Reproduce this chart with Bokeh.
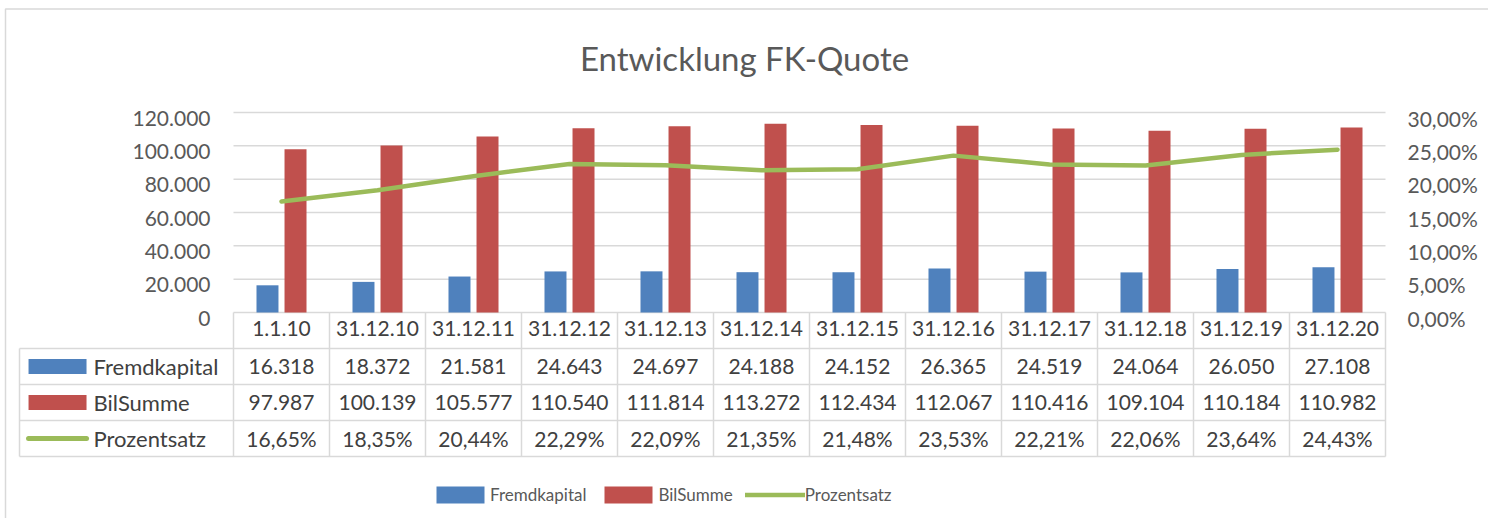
from bokeh.plotting import figure
from bokeh.models import (Range1d, LinearAxis, FixedTicker, CustomJSTickFormatter,
                          Legend, LegendItem, Label)
from bokeh.core.properties import value
from bokeh.embed import file_html
from bokeh.resources import INLINE

# ---------------- data ----------------
categories = ["1.1.10", "31.12.10", "31.12.11", "31.12.12", "31.12.13", "31.12.14",
              "31.12.15", "31.12.16", "31.12.17", "31.12.18", "31.12.19", "31.12.20"]
fremdkapital = [16318, 18372, 21581, 24643, 24697, 24188, 24152, 26365, 24519, 24064, 26050, 27108]
bilsumme = [97987, 100139, 105577, 110540, 111814, 113272, 112434, 112067, 110416, 109104, 110184, 110982]
prozentsatz = [16.65, 18.35, 20.44, 22.29, 22.09, 21.35, 21.48, 23.53, 22.21, 22.06, 23.64, 24.43]
series_names = ["Fremdkapital", "BilSumme", "Prozentsatz"]
left_ticks = [0, 20000, 40000, 60000, 80000, 100000, 120000]
right_ticks = [0, 5, 10, 15, 20, 25, 30]
title_text = "Entwicklung FK-Quote"

# ---------------- style / layout ----------------
BLUE, RED, GREEN = "#4F81BD", "#C0504D", "#9BBB59"
GRID = "#D9D9D9"
TXT = "#595959"
TBL_TXT = "#404040"
FONT = "Lato"

W, H = 1488, 518
PX_X = 96.0                          # pixels per category
PX0_X = 233.0                        # pixel of category axis start
UPP = 600.0                          # left-axis units per pixel
PX_120K = 112.0                      # pixel row of the 120.000 gridline
ROW_H = 36 * UPP                     # data-table row height
PCT_FACTOR = 4000.0                  # 30% <-> 120000
n = len(categories)
TABLE_LEFT = -2.229                  # left edge of the row-label column (category units)
X_START, X_END = -PX0_X / PX_X, (W - PX0_X) / PX_X
Y_TOP = 120000 + PX_120K * UPP
Y_BOTTOM = 120000 - (H - PX_120K) * UPP
BAR_OFF, BAR_W = 0.146, 0.229
LABEL_DY = 5.5 * UPP                 # Excel draws value-axis labels slightly below their gridline

p = figure(width=W, height=H, output_backend="svg", toolbar_location=None, title=None,
           x_axis_type=None, y_axis_type=None,
           x_range=Range1d(X_START, X_END), y_range=Range1d(Y_BOTTOM, Y_TOP),
           min_border=0)
p.extra_y_ranges = {"pct": Range1d(Y_BOTTOM / PCT_FACTOR, Y_TOP / PCT_FACTOR)}
p.outline_line_color = None
p.background_fill_color = "white"
p.border_fill_color = "white"

# chart-area border (left and top edges visible)
bx = (5 - PX0_X) / PX_X
by = 120000 + (PX_120K - 8.5) * UPP
p.line(x=[bx, bx, X_END + 1], y=[Y_BOTTOM - 1e4, by, by], line_color=GRID, line_width=1.5)

# title
p.add_layout(Label(x=(744 - PX0_X) / PX_X, y=120000 + (PX_120K - 57) * UPP, text=title_text,
                   text_align="center", text_baseline="alphabetic", text_font=FONT,
                   text_font_size="33px", text_color=TXT))

# gridlines (only over plot area)
gt = left_ticks[1:]
p.segment(x0=[0] * len(gt), x1=[n] * len(gt), y0=gt, y1=gt, line_color=GRID, line_width=1.5)

# table lines
hy = [0, -ROW_H, -2 * ROW_H, -3 * ROW_H, -4 * ROW_H]
hx0 = [0] + [TABLE_LEFT] * 4
p.segment(x0=hx0, x1=[n] * 5, y0=hy, y1=hy, line_color=GRID, line_width=1.5)
vx = list(range(n + 1)) + [TABLE_LEFT]
vy0 = [0] * (n + 1) + [-ROW_H]
p.segment(x0=vx, x1=vx, y0=vy0, y1=[-4 * ROW_H] * (n + 2), line_color=GRID, line_width=1.5)

# bars and line
centers = [i + 0.5 for i in range(n)]
r_fk = p.vbar(x=[c - BAR_OFF for c in centers], top=fremdkapital, bottom=0, width=BAR_W,
              fill_color=BLUE, line_color=None)
r_bs = p.vbar(x=[c + BAR_OFF for c in centers], top=bilsumme, bottom=0, width=BAR_W,
              fill_color=RED, line_color=None)
r_pz = p.line(x=centers, y=prozentsatz, y_range_name="pct", line_color=GREEN,
              line_width=4.5, line_cap="round", line_join="round")

# axes
left_ax = LinearAxis(fixed_location=0, ticker=FixedTicker(ticks=[t - LABEL_DY for t in left_ticks]),
                     formatter=CustomJSTickFormatter(args=dict(off=LABEL_DY), code="""
                        const s = Math.round(tick + off).toString();
                        return s.replace(/\\B(?=(\\d{3})+(?!\\d))/g, ".");"""))
pct_off = LABEL_DY / PCT_FACTOR
right_ax = LinearAxis(fixed_location=n, y_range_name="pct",
                      ticker=FixedTicker(ticks=[t - pct_off for t in right_ticks]),
                      formatter=CustomJSTickFormatter(args=dict(off=pct_off), code="""
                        return (tick + off).toFixed(2).replace(".", ",") + "%";"""))
x_ax = LinearAxis(fixed_location=0, ticker=FixedTicker(ticks=centers),
                  formatter=CustomJSTickFormatter(args=dict(labels=categories),
                                                  code="return labels[Math.floor(tick)];"))
for ax, so in ((left_ax, 23), (right_ax, 22), (x_ax, 8)):
    ax.axis_line_color = None
    ax.major_tick_line_color = None
    ax.minor_tick_line_color = None
    ax.major_tick_out = 0
    ax.major_tick_in = 0
    ax.major_label_standoff = so
    ax.major_label_text_font = FONT
    ax.major_label_text_font_size = "21px"
    ax.major_label_text_color = TXT
x_ax.major_label_text_color = TBL_TXT
p.add_layout(left_ax, "left")
p.add_layout(right_ax, "right")
p.add_layout(x_ax, "below")

# data table values
def fmt_int(v):
    return f"{v:,}".replace(",", ".")

def fmt_pct(v):
    return f"{v:.2f}".replace(".", ",") + "%"

rows = [[fmt_int(v) for v in fremdkapital],
        [fmt_int(v) for v in bilsumme],
        [fmt_pct(v) for v in prozentsatz]]
for r, texts in enumerate(rows):
    yc = -(r + 1.5) * ROW_H
    p.text(x=centers, y=[yc] * n, text=texts, text_align="center", text_baseline="middle",
           text_font=value(FONT), text_font_size="21px", text_color=TBL_TXT)

# row labels with legend keys
row_y = [-(r + 1.5) * ROW_H for r in range(3)]
p.text(x=[-1.458] * 3, y=row_y, text=series_names, text_align="left", text_baseline="middle",
       text_font=value(FONT), text_font_size="22px", text_color=TBL_TXT)
p.rect(x=[-1.833], y=[row_y[0]], width=0.604, height=15, height_units="screen",
       fill_color=BLUE, line_color=None)
p.rect(x=[-1.833], y=[row_y[1]], width=0.604, height=15, height_units="screen",
       fill_color=RED, line_color=None)
p.segment(x0=[-2.135], x1=[-1.531], y0=[row_y[2]], y1=[row_y[2]], line_color=GREEN,
          line_width=5, line_cap="round")

# bottom legend
legend = Legend(items=[LegendItem(label=series_names[0], renderers=[r_fk]),
                       LegendItem(label=series_names[1], renderers=[r_bs]),
                       LegendItem(label=series_names[2], renderers=[r_pz])],
                orientation="horizontal", location=(430, 13),
                glyph_width=60, glyph_height=21, label_standoff=0, spacing=12,
                padding=0, margin=0, border_line_color=None, background_fill_alpha=0,
                label_text_font=FONT, label_text_font_size="17px", label_text_color=TXT)
p.add_layout(legend, "center")

open("out.html", "w").write(file_html(p, INLINE))
